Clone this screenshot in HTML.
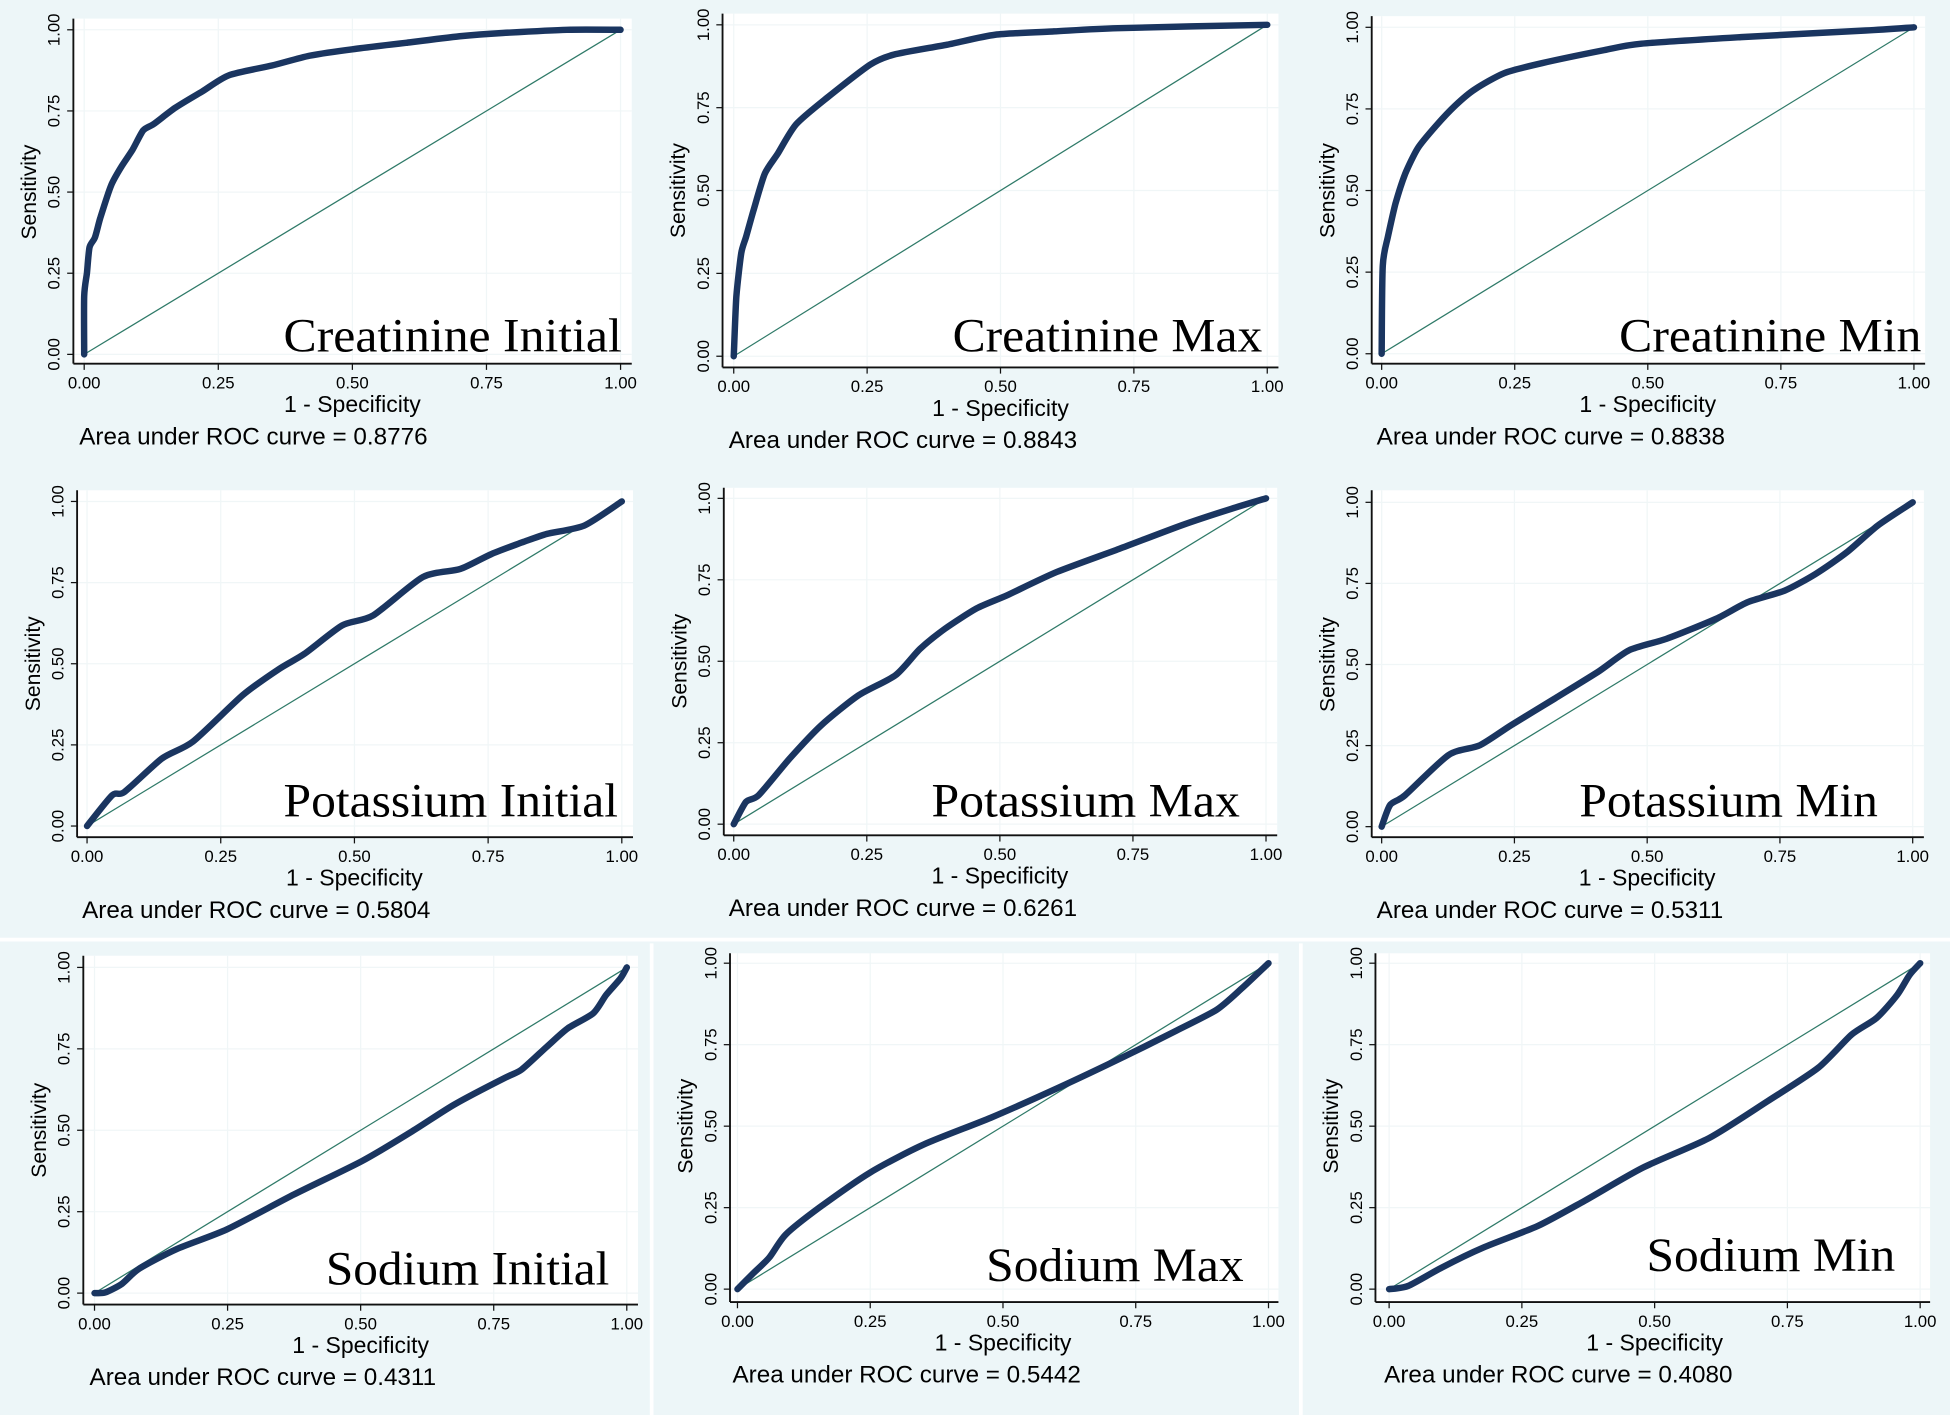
<!DOCTYPE html>
<html><head><meta charset="utf-8"><style>
html,body{margin:0;padding:0;background:#edf6f8;}
svg{display:block;}
</style></head><body>
<svg id="fig" width="1950" height="1415" viewBox="0 0 1568 1140" preserveAspectRatio="none" xmlns="http://www.w3.org/2000/svg">
<rect x="0" y="0" width="1568" height="1140" fill="#edf6f8"/>
<line x1="0" y1="757" x2="1568" y2="757" stroke="#ffffff" stroke-width="3"/>
<line x1="524" y1="760" x2="524" y2="1140" stroke="#ffffff" stroke-width="3"/>
<line x1="1046" y1="760" x2="1046" y2="1140" stroke="#ffffff" stroke-width="3"/>
<g id="panels"></g>
</svg>
<script>
const panelTitles = ["Creatinine Initial","Creatinine Max","Creatinine Min","Potassium Initial","Potassium Max","Potassium Min","Sodium Initial","Sodium Max","Sodium Min"];
const aucValues = ["0.8776","0.8843","0.8838","0.5804","0.6261","0.5311","0.4311","0.5442","0.4080"];
const tickLabels = ["0.00","0.25","0.50","0.75","1.00"];
const tickValues = [0,0.25,0.5,0.75,1];

const fpr1 = [0,0,0.005,0.01,0.02,0.03,0.05,0.07,0.09,0.11,0.13,0.17,0.22,0.27,0.35,0.42,0.5,0.6,0.7,0.78,0.9,1];
const tpr1 = [0,0.18,0.25,0.33,0.36,0.42,0.52,0.58,0.63,0.69,0.71,0.76,0.81,0.86,0.89,0.92,0.94,0.96,0.98,0.99,1,1];
const fpr2 = [0,0.005,0.014,0.023,0.037,0.058,0.082,0.117,0.175,0.256,0.30,0.4,0.49,0.6,0.72,1];
const tpr2 = [0,0.18,0.31,0.36,0.44,0.55,0.61,0.70,0.78,0.88,0.91,0.94,0.97,0.98,0.99,1];
const fpr3 = [0,0.002,0.012,0.026,0.044,0.068,0.103,0.138,0.175,0.231,0.301,0.418,0.488,0.675,0.909,1];
const tpr3 = [0,0.27,0.36,0.46,0.55,0.63,0.70,0.76,0.81,0.86,0.89,0.93,0.95,0.97,0.99,1];
const fpr4 = [0,0.047,0.07,0.14,0.198,0.291,0.36,0.407,0.477,0.535,0.628,0.698,0.756,0.814,0.86,0.93,1];
const tpr4 = [0,0.095,0.105,0.208,0.26,0.403,0.485,0.531,0.618,0.649,0.767,0.792,0.838,0.874,0.9,0.926,1];
const fpr5 = [0,0.023,0.047,0.105,0.164,0.234,0.304,0.35,0.397,0.456,0.514,0.607,0.724,0.841,0.935,1];
const tpr5 = [0,0.068,0.089,0.201,0.303,0.395,0.457,0.538,0.6,0.662,0.703,0.774,0.845,0.917,0.968,1];
const fpr6 = [0,0.016,0.044,0.126,0.185,0.244,0.326,0.407,0.466,0.536,0.63,0.689,0.759,0.817,0.876,0.934,1];
const tpr6 = [0,0.067,0.097,0.221,0.251,0.313,0.395,0.477,0.544,0.579,0.641,0.692,0.728,0.779,0.846,0.928,1];
const fpr7 = [0,0.02,0.051,0.083,0.154,0.249,0.375,0.502,0.597,0.676,0.771,0.802,0.85,0.889,0.937,0.961,0.988,1];
const tpr7 = [0,0.002,0.028,0.074,0.135,0.196,0.303,0.405,0.497,0.579,0.661,0.686,0.757,0.813,0.859,0.915,0.966,1];
const fpr8 = [0,0.028,0.06,0.091,0.154,0.249,0.351,0.477,0.603,0.729,0.824,0.902,0.95,1];
const tpr8 = [0,0.046,0.097,0.168,0.25,0.357,0.444,0.526,0.617,0.714,0.791,0.857,0.923,1];
const fpr9 = [0,0.036,0.099,0.178,0.28,0.367,0.477,0.603,0.713,0.808,0.871,0.918,0.957,0.98,1];
const tpr9 = [0,0.01,0.066,0.128,0.194,0.27,0.372,0.464,0.577,0.679,0.781,0.832,0.903,0.964,1];
const fprSeries = [fpr1,fpr2,fpr3,fpr4,fpr5,fpr6,fpr7,fpr8,fpr9];
const tprSeries = [tpr1,tpr2,tpr3,tpr4,tpr5,tpr6,tpr7,tpr8,tpr9];

// layout (pixel geometry, display units)
const layout = [
 {x0:67.7,x1:499,yT:24,yB:285.5,ax:59,ay:293,top:15,right:508,tR:500,tB:283,tW:272},
 {x0:590,x1:1019,yT:20,yB:287,ax:581,ay:296,top:11,right:1028,tR:1015,tB:283,tW:249},
 {x0:1111,x1:1539,yT:22,yB:285,ax:1103,ay:293,top:13,right:1548,tR:1545,tB:283,tW:243},
 {x0:70,x1:500,yT:404,yB:665.5,ax:62,ay:674.5,top:395,right:509,tR:497,tB:658,tW:269},
 {x0:590,x1:1018,yT:401.5,yB:664,ax:582,ay:673,top:393,right:1027,tR:997,tB:658,tW:248},
 {x0:1111,x1:1538,yT:404.7,yB:666,ax:1103,ay:674.5,top:395,right:1547,tR:1510,tB:658,tW:240},
 {x0:76,x1:504,yT:779.4,yB:1041.8,ax:67,ay:1051,top:770,right:513,tR:490,tB:1035,tW:228},
 {x0:593,x1:1020,yT:776,yB:1038.6,ax:587,ay:1049,top:768,right:1028,tR:1000,tB:1032,tW:207},
 {x0:1117,x1:1544,yT:776,yB:1038.6,ax:1106,ay:1049,top:768,right:1552,tR:1524,tB:1024,tW:200}
];

const NS = "http://www.w3.org/2000/svg";
const root = document.getElementById('panels');
function mk(tag, attrs, parent){
  const e = document.createElementNS(NS, tag);
  for (const k in attrs) e.setAttribute(k, attrs[k]);
  parent.appendChild(e);
  return e;
}
function smoothPath(pts){
  let d = 'M' + pts[0][0].toFixed(1) + ' ' + pts[0][1].toFixed(1);
  for (let i = 0; i < pts.length - 1; i++) {
    const p0 = pts[Math.max(0, i-1)], p1 = pts[i], p2 = pts[i+1], p3 = pts[Math.min(pts.length-1, i+2)];
    const t = 0.12;
    const c1 = [p1[0] + (p2[0]-p0[0])*t, p1[1] + (p2[1]-p0[1])*t];
    const c2 = [p2[0] - (p3[0]-p1[0])*t, p2[1] - (p3[1]-p1[1])*t];
    d += 'C' + c1[0].toFixed(1) + ' ' + c1[1].toFixed(1) + ' ' + c2[0].toFixed(1) + ' ' + c2[1].toFixed(1) + ' ' + p2[0].toFixed(1) + ' ' + p2[1].toFixed(1);
  }
  return d;
}
for (let p = 0; p < 9; p++) {
  const L = layout[p];
  const xS = v => L.x0 + v * (L.x1 - L.x0);
  const yS = v => L.yB - v * (L.yB - L.yT);
  const g = mk('g', {}, root);
  
  
  const bg = mk('rect', {x:L.ax, y:L.top, width:L.right-L.ax, height:L.ay-L.top, fill:'#ffffff'}, g);
  
  
  tickValues.forEach(v => {
    const gl = mk('line', {x1:L.ax, x2:L.right, y1:yS(v), y2:yS(v), stroke:'#f0f6f7', 'stroke-width':1}, g);
    
    
    const gv = mk('line', {x1:xS(v), x2:xS(v), y1:L.top, y2:L.ay, stroke:'#f0f6f7', 'stroke-width':1}, g);
    
    
  });
  const yax = mk('line', {x1:L.ax, x2:L.ax, y1:L.top, y2:L.ay, stroke:'#111', 'stroke-width':1.5}, g);
  
  
  const xax = mk('line', {x1:L.ax, x2:L.right, y1:L.ay, y2:L.ay, stroke:'#111', 'stroke-width':1.5}, g);
  
  
  tickValues.forEach((v, i) => {
    const tx = mk('line', {x1:xS(v), x2:xS(v), y1:L.ay, y2:L.ay+5, stroke:'#111', 'stroke-width':1}, g);
    
    
    const ty = mk('line', {x1:L.ax-5, x2:L.ax, y1:yS(v), y2:yS(v), stroke:'#111', 'stroke-width':1}, g);
    
    
    const xl = mk('text', {x:xS(v), y:L.ay+20, 'text-anchor':'middle', 'font-family':'Liberation Sans Narrow, Liberation Sans, sans-serif', 'font-size':13.5, fill:'#000'}, g);
    xl.textContent = tickLabels[i];
    
    
    const yx = L.ax - 11, yy = yS(v);
    const yl = mk('text', {x:yx, y:yy, 'text-anchor':'middle', transform:'rotate(-90 '+yx+' '+yy+')', 'font-family':'Liberation Sans Narrow, Liberation Sans, sans-serif', 'font-size':13.5, fill:'#000'}, g);
    yl.textContent = tickLabels[i];
    
    
  });
  const xt = mk('text', {x:(L.x0+L.x1)/2, y:L.ay+39, 'text-anchor':'middle', 'font-family':'Liberation Sans, sans-serif', 'font-size':18.5, fill:'#000'}, g);
  xt.textContent = '1 - Specificity';
  
  
  const sx = L.ax - 30, sy = (L.yT + L.yB)/2;
  const yt = mk('text', {x:sx, y:sy, 'text-anchor':'middle', transform:'rotate(-90 '+sx+' '+sy+')', 'font-family':'Liberation Sans, sans-serif', 'font-size':17, fill:'#000'}, g);
  yt.textContent = 'Sensitivity';
  
  
  const au = mk('text', {x:L.x0-4, y:L.ay+65, 'font-family':'Liberation Sans, sans-serif', 'font-size':19.5, fill:'#000'}, g);
  au.textContent = 'Area under ROC curve = ' + aucValues[p];
  
  
  const dg = mk('line', {x1:xS(0), y1:yS(0), x2:xS(1), y2:yS(1), stroke:'#2f7a68', 'stroke-width':1}, g);
  
  
  const fx = fprSeries[p], ty2 = tprSeries[p];
  const pts = fx.map((v, i) => [xS(v), yS(ty2[i])]);
  const cv = mk('path', {d:smoothPath(pts), fill:'none', stroke:'#1a3560', 'stroke-width':5.2, 'stroke-linejoin':'round', 'stroke-linecap':'round'}, g);
  
  
  const tt = mk('text', {x:L.tR, y:L.tB, 'text-anchor':'end', 'font-family':'Liberation Serif, serif', 'font-size':38, fill:'#000', textLength:L.tW, lengthAdjust:'spacingAndGlyphs'}, g);
  tt.textContent = panelTitles[p];
  
  
}
</script>
</body></html>
